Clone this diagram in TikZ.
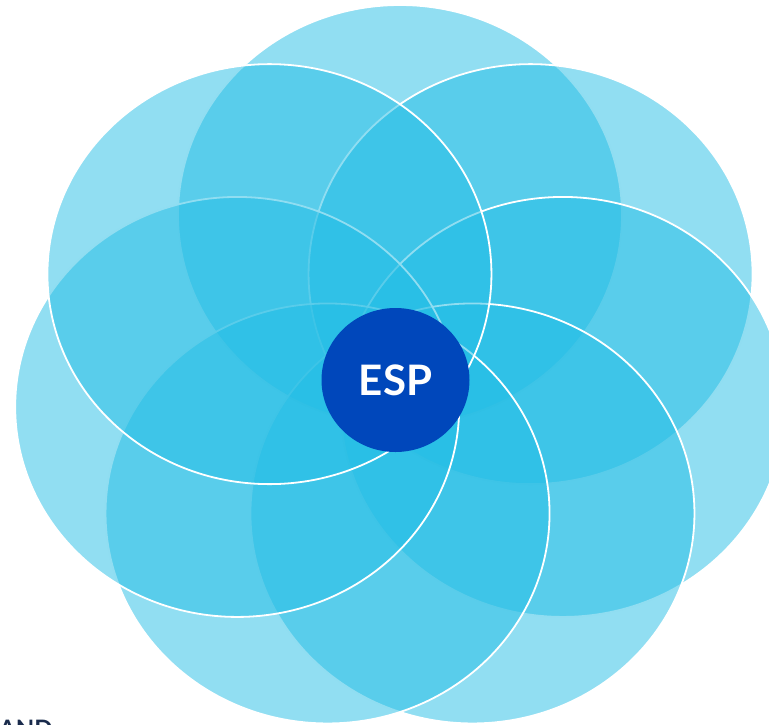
\documentclass[tikz,border=0pt]{standalone}
\usepackage{fontspec}
\setsansfont{Lato}
\usetikzlibrary{shapes.geometric}

\definecolor{petalblue}{RGB}{35,189,229}
\definecolor{corebl}{RGB}{0,71,187}
\definecolor{inknavy}{RGB}{26,43,76}

\tikzset{
  petal/.style={ellipse, inner sep=0pt, minimum width=444pt, minimum height=420pt,
    fill=petalblue, fill opacity=0.5, draw=white, line width=1.8pt},
  hub/.style={ellipse, inner sep=0pt, minimum width=148pt, minimum height=144pt,
    fill=corebl, text=white, font=\sffamily\bfseries\fontsize{42}{42}\selectfont},
  tagline/.style={inner sep=0pt, text=inknavy, font=\sffamily\bfseries\fontsize{24}{24}\selectfont},
}

\begin{document}
\begin{tikzpicture}[x=1pt,y=-1pt]
  \useasboundingbox (0,0) rectangle (769,724);
  \clip (0,0) rectangle (769,724);
  % seven petals, placed clockwise from the top so each one overlaps the previous
  \foreach \name/\ang in {top/90, ur/38.571, rt/-12.857, br/-64.286, bl/-115.714, lt/-167.143, ul/-218.571}
    \node[petal] (\name) at ({400+167*cos(\ang)}, {372-157*sin(\ang)}) {};
  % central hub
  \node[hub] (esp) at (395.5,380) {ESP};
  % caption running off the lower edge
  \node[tagline, anchor=base west] (tag) at (-1,737) {AND};
\end{tikzpicture}
\end{document}
